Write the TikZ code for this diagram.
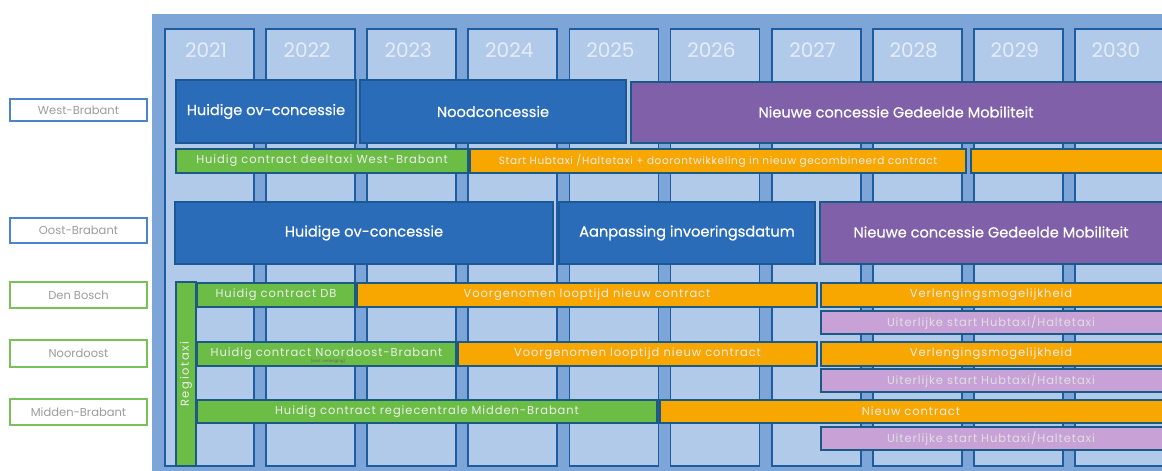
\documentclass[tikz,border=0pt]{standalone}
\usepackage{fontspec}
\setmainfont{Poppins}
\newfontfamily\barfont{Poppins}[FakeBold=0.6]
\definecolor{panel}{HTML}{7DA5D8}
\definecolor{colfill}{HTML}{B2CAEA}
\definecolor{colline}{HTML}{1D5C9E}
\definecolor{ovblue}{HTML}{2A6CB8}
\definecolor{ovline}{HTML}{1C5894}
\definecolor{gmpurple}{HTML}{8060A8}
\definecolor{rtgreen}{HTML}{6CBD45}
\definecolor{ctorange}{HTML}{F8A700}
\definecolor{hublilac}{HTML}{C8A2D6}
\definecolor{barline}{HTML}{1B5A84}
\definecolor{yeartext}{HTML}{E4ECF7}
\definecolor{sidetext}{HTML}{9C9C9C}
\definecolor{sideblue}{HTML}{4C84C9}
\definecolor{sidegreen}{HTML}{7CC05A}
% text styles for the wide and the thin blocks
\newcommand{\bigtl}{\barfont\fontsize{14.6}{17}\selectfont}
\newcommand{\smalltl}{\fontsize{11.5}{13}\selectfont\addfontfeature{LetterSpace=8}}
\tikzset{
  yearcol/.style={draw=colline, line width=1.8pt, fill=colfill},
  blk/.style={rectangle, inner sep=0pt, outer sep=0pt, line width=1.3pt},
  bigbar/.style={blk, draw=ovline, text=white, font=\bigtl},
  ovbar/.style={bigbar, fill=ovblue},
  gmbar/.style={bigbar, fill=gmpurple, draw=barline},
  thinbar/.style={blk, draw=barline, text=white!93!black, font=\smalltl},
  greenbar/.style={thinbar, fill=rtgreen},
  orangebar/.style={thinbar, fill=ctorange},
  lilacbar/.style={thinbar, fill=hublilac, text=white!88!black},
  sidelabel/.style={blk, fill=white, line width=1.4pt, text=sidetext, font=\fontsize{11.5}{13}\selectfont},
  yearlabel/.style={text=yeartext, font=\fontsize{20}{22}\selectfont, inner sep=0pt},
  bartext/.style={inner sep=0pt},
}
% \tlbar{style}{name}{x1}{y1}{x2}{y2}{text}: a block spanning the given corners
\newcommand{\tlbar}[7]{%
  \path[#1] (#3,#4) rectangle (#5,#6);
  \node[bartext, #1, draw=none, fill=none] (#2) at ({(#3+#5)/2},{(#4+#6)/2}) {#7};}
\begin{document}
\begin{tikzpicture}[x=1pt,y=-1pt]
\useasboundingbox (0,0) rectangle (1162,471);
\clip (0,0) rectangle (1162,471);
% panel behind the timeline
\fill[panel] (152,14) rectangle (1170,480);
% year columns
\foreach \i/\yr in {0/2021,1/2022,2/2023,3/2024,4/2025,5/2026,6/2027,7/2028,8/2029,9/2030}{
  \pgfmathsetmacro{\xl}{165+101.1*\i}
  \draw[yearcol] (\xl,29) rectangle (\xl+89,466);
  \node[yearlabel] (y\yr) at (\xl+41,50) {\yr};
}
% West-Brabant
\tlbar{ovbar}{wbhuidig}{176}{80}{356}{143}{Huidige ov-concessie}
\tlbar{ovbar}{wbnood}{360}{80}{626}{143}{Noodconcessie}
\path[gmbar] (631,82) rectangle (1175,143);
\node[bartext, text=white, font=\bigtl] (wbnieuw) at (896,112) {Nieuwe concessie Gedeelde Mobiliteit};
\tlbar{greenbar}{wbdeel}{176}{149}{468}{173}{Huidig contract deeltaxi West-Brabant}
\tlbar{orangebar}{wbhub}{470}{149}{966}{173}{\fontsize{10.5}{12}\selectfont\addfontfeature{LetterSpace=6}Start Hubtaxi /Haltetaxi + doorontwikkeling in nieuw gecombineerd contract}
\path[orangebar] (971,149) rectangle (1175,173);
% Oost-Brabant
\tlbar{ovbar}{obhuidig}{175}{202}{553}{264}{Huidige ov-concessie}
\tlbar{ovbar}{obaanp}{559}{202}{815}{264}{Aanpassing invoeringsdatum}
\path[gmbar] (820,202) rectangle (1175,264);
\node[bartext, text=white, font=\bigtl] (obnieuw) at (991,232) {Nieuwe concessie Gedeelde Mobiliteit};
% Regiotaxi
\path[greenbar] (176,282) rectangle (196,466);
\node[bartext, text=white!93!black, font={\fontsize{11.5}{13}\selectfont\addfontfeature{LetterSpace=14}}, rotate=90] (regiotaxi) at (186,374) {Regiotaxi};
% Den Bosch
\tlbar{greenbar}{dbhuidig}{197}{283}{355}{307}{Huidig contract DB}
\tlbar{orangebar}{dbvoor}{357}{283}{817}{307}{Voorgenomen looptijd nieuw contract}
\path[orangebar] (821,283) rectangle (1175,307);
\node[bartext, text=white!93!black, font=\smalltl] (dbverl) at (991,295) {Verlengingsmogelijkheid};
\path[lilacbar] (821,311) rectangle (1175,334);
\node[bartext, text=white!88!black, font=\smalltl] (dbhub) at (991,322.5) {Uiterlijke start Hubtaxi/Haltetaxi};
% Noordoost
\tlbar{greenbar}{nohuidig}{197}{342}{456}{366}{Huidig contract Noordoost-Brabant}
\node[bartext, text=black!60, font=\fontsize{4}{5}\selectfont] (noexcl) at (328,361) {(excl. verlenging)};
\tlbar{orangebar}{novoor}{458}{342}{817}{366}{Voorgenomen looptijd nieuw contract}
\path[orangebar] (821,342) rectangle (1175,366);
\node[bartext, text=white!93!black, font=\smalltl] (noverl) at (991,354) {Verlengingsmogelijkheid};
\path[lilacbar] (821,369) rectangle (1175,392);
\node[bartext, text=white!88!black, font=\smalltl] (nohub) at (991,380.5) {Uiterlijke start Hubtaxi/Haltetaxi};
% Midden-Brabant
\tlbar{greenbar}{mbhuidig}{197}{400}{657}{423}{Huidig contract regiecentrale Midden-Brabant}
\path[orangebar] (660,400) rectangle (1175,423);
\node[bartext, text=white!93!black, font=\smalltl] (mbnieuw) at (911,411.5) {Nieuw contract};
\path[lilacbar] (821,427) rectangle (1175,450);
\node[bartext, text=white!88!black, font=\smalltl] (mbhub) at (991,438.5) {Uiterlijke start Hubtaxi/Haltetaxi};
% region labels
\tlbar{sidelabel, draw=sideblue}{lwb}{10}{99}{147}{121}{West-Brabant}
\tlbar{sidelabel, draw=sideblue}{lob}{10}{218}{147}{243}{Oost-Brabant}
\tlbar{sidelabel, draw=sidegreen}{ldb}{10}{282}{147}{308}{Den Bosch}
\tlbar{sidelabel, draw=sidegreen}{lno}{10}{340}{147}{367}{Noordoost}
\tlbar{sidelabel, draw=sidegreen}{lmb}{10}{399}{147}{425}{Midden-Brabant}
\end{tikzpicture}
\end{document}
